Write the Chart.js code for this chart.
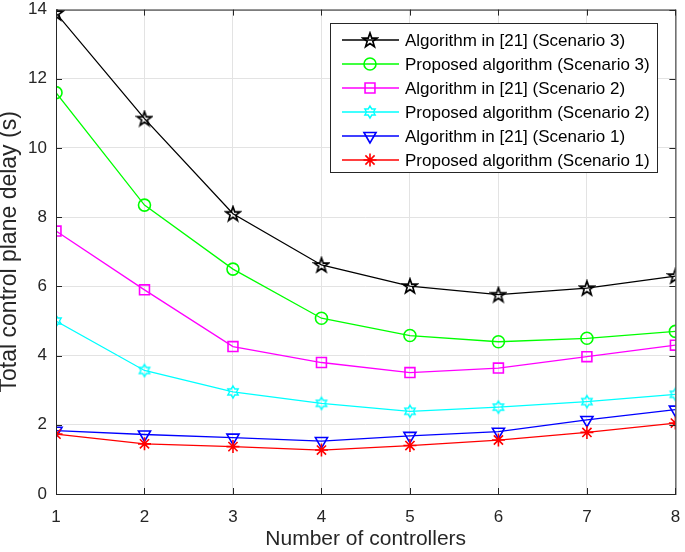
<!DOCTYPE html>
<html>
<head>
<meta charset="utf-8">
<script src="https://cdn.jsdelivr.net/npm/chart.js@4/dist/chart.umd.min.js"></script>
<style>
  html, body { margin: 0; padding: 0; background: #fff; }
  #wrap { width: 685px; height: 552px; }
</style>
</head>
<body>
<div id="wrap"><canvas id="delayChart" width="685" height="552"></canvas></div>
<script>
// Number of controllers (x axis)
const controllers = [1, 2, 3, 4, 5, 6, 7, 8];

// Total control plane delay (s)
const algo21Scenario3 = [13.9, 10.85, 8.1, 6.62, 6.01, 5.76, 5.95, 6.3];
const proposedScenario3 = [11.6, 8.35, 6.5, 5.08, 4.58, 4.4, 4.5, 4.7];
const algo21Scenario2 = [7.6, 5.9, 4.26, 3.8, 3.51, 3.64, 3.97, 4.3];
const proposedScenario2 = [5.0, 3.57, 2.95, 2.62, 2.39, 2.51, 2.67, 2.88];
const algo21Scenario1 = [1.83, 1.72, 1.63, 1.53, 1.68, 1.8, 2.14, 2.44];
const proposedScenario1 = [1.73, 1.45, 1.37, 1.27, 1.4, 1.56, 1.78, 2.05];

const seriesLabels = [
    'Algorithm in [21] (Scenario 3)',
    'Proposed algorithm (Scenario 3)',
    'Algorithm in [21] (Scenario 2)',
    'Proposed algorithm (Scenario 2)',
    'Algorithm in [21] (Scenario 1)',
    'Proposed algorithm (Scenario 1)'
];
const yTicks = [0, 2, 4, 6, 8, 10, 12, 14];

const FONT = 'Liberation Sans, Arial, Helvetica, sans-serif';
const AXIS_COLOR = '#262626';

// Marker images for MATLAB-like pentagram / hexagram
function makePentagram(color) {
    const c = document.createElement('canvas');
    c.width = 18; c.height = 18;
    const g = c.getContext('2d');
    const R = 7.5, r = 3.0, cx = 9, cy = 9.5;
    g.beginPath();
    for (let i = 0; i < 10; i++) {
        const rad = i % 2 === 0 ? R : r;
        const a = -Math.PI / 2 + i * Math.PI / 5;
        const px = cx + rad * Math.cos(a), py = cy + rad * Math.sin(a);
        if (i === 0) g.moveTo(px, py); else g.lineTo(px, py);
    }
    g.closePath();
    g.strokeStyle = color;
    g.lineWidth = 1.7;
    g.stroke();
    return c;
}

function makeHexagram(color) {
    const c = document.createElement('canvas');
    c.width = 16; c.height = 16;
    const g = c.getContext('2d');
    const R = 6, r = 3.5, cx = 8, cy = 8;
    g.beginPath();
    for (let i = 0; i < 12; i++) {
        const rad = i % 2 === 0 ? R : r;
        const a = -Math.PI / 2 + i * Math.PI / 6;
        const px = cx + rad * Math.cos(a), py = cy + rad * Math.sin(a);
        if (i === 0) g.moveTo(px, py); else g.lineTo(px, py);
    }
    g.closePath();
    g.strokeStyle = color;
    g.lineWidth = 1.4;
    g.stroke();
    return c;
}

const pentagram = makePentagram('#000000');
const hexagram = makeHexagram('#00ffff');

function toPoints(values) {
    return controllers.map((x, i) => ({ x: x, y: values[i] }));
}

function series(label, values, color, style, radius, rotation, order) {
    return {
        label: label,
        data: toPoints(values),
        borderColor: color,
        backgroundColor: 'rgba(0,0,0,0)',
        borderWidth: 1.3,
        pointStyle: style,
        pointRadius: radius,
        pointHoverRadius: radius,
        pointRotation: rotation || 0,
        pointBorderColor: color,
        pointBackgroundColor: 'rgba(0,0,0,0)',
        pointBorderWidth: 1.6,
        tension: 0,
        order: order
    };
}

const datasets = [
    series(seriesLabels[0], algo21Scenario3, '#000000', pentagram, 8, 0, 6),
    series(seriesLabels[1], proposedScenario3, '#00ff00', 'circle', 6, 0, 5),
    series(seriesLabels[2], algo21Scenario2, '#ff00ff', 'rect', 7, 0, 4),
    series(seriesLabels[3], proposedScenario2, '#00ffff', hexagram, 7, 0, 3),
    series(seriesLabels[4], algo21Scenario1, '#0000ff', 'triangle', 7, 180, 2),
    series(seriesLabels[5], proposedScenario1, '#ff0000', 'star', 6.5, 0, 1)
];

// Box around the axes, inward ticks, and the MATLAB-style legend
const matlabFrame = {
    id: 'matlabFrame',
    afterDatasetsDraw(chart) {
        const ctx = chart.ctx;
        const a = chart.chartArea;
        const xs = chart.scales.x, ys = chart.scales.y;
        ctx.save();
        ctx.strokeStyle = AXIS_COLOR;
        ctx.lineWidth = 1;
        ctx.strokeRect(a.left + 0.5, a.top + 0.5, a.right - a.left, a.bottom - a.top);
        ctx.beginPath();
        controllers.forEach(v => {
            const px = Math.round(xs.getPixelForValue(v)) + 0.5;
            ctx.moveTo(px, a.bottom); ctx.lineTo(px, a.bottom - 6);
            ctx.moveTo(px, a.top); ctx.lineTo(px, a.top + 6);
        });
        yTicks.forEach(v => {
            const py = Math.round(ys.getPixelForValue(v)) + 0.5;
            ctx.moveTo(a.left, py); ctx.lineTo(a.left + 6, py);
            ctx.moveTo(a.right, py); ctx.lineTo(a.right - 6, py);
        });
        ctx.stroke();

        // legend
        const lx = 330.5, ly = 23.5, lw = 327, lh = 149;
        ctx.fillStyle = '#ffffff';
        ctx.fillRect(lx, ly, lw, lh);
        ctx.strokeStyle = AXIS_COLOR;
        ctx.strokeRect(lx, ly, lw, lh);
        ctx.font = '17px ' + FONT;
        ctx.textBaseline = 'middle';
        chart.data.datasets.forEach((ds, i) => {
            const rowY = 40 + i * 24;
            ctx.strokeStyle = ds.borderColor;
            ctx.lineWidth = 1.3;
            ctx.beginPath();
            ctx.moveTo(342, rowY); ctx.lineTo(399, rowY);
            ctx.stroke();
            ctx.fillStyle = 'rgba(0,0,0,0)';
            ctx.lineWidth = ds.pointBorderWidth;
            Chart.helpers.drawPoint(ctx, {
                pointStyle: ds.pointStyle,
                rotation: ds.pointRotation,
                radius: ds.pointRadius,
                borderWidth: ds.pointBorderWidth
            }, 370, rowY);
            ctx.fillStyle = '#000000';
            ctx.textAlign = 'left';
            ctx.fillText(ds.label, 405, rowY + 1);
        });
        ctx.restore();
    }
};

new Chart(document.getElementById('delayChart'), {
    type: 'line',
    data: { datasets: datasets },
    options: {
        responsive: false,
        animation: false,
        events: [],
        layout: { padding: { left: 0, top: 3, right: 8, bottom: 0 } },
        plugins: {
            legend: { display: false },
            tooltip: { enabled: false }
        },
        scales: {
            x: {
                type: 'linear',
                min: 1,
                max: 8,
                afterBuildTicks: s => { s.ticks = controllers.map(v => ({ value: v })); },
                afterFit: s => { s.height = 58; s.paddingLeft = 0; s.paddingRight = 0; },
                grid: { color: '#e3e3e3', drawTicks: false, lineWidth: 1 },
                border: { display: false },
                ticks: { color: AXIS_COLOR, font: { family: FONT, size: 17 }, padding: 13, maxRotation: 0 },
                title: {
                    display: true,
                    text: 'Number of controllers',
                    color: AXIS_COLOR,
                    font: { family: FONT, size: 21 },
                    padding: { top: 0, bottom: 0 }
                }
            },
            y: {
                min: 0,
                max: 14,
                afterBuildTicks: s => { s.ticks = yTicks.map(v => ({ value: v })); },
                afterFit: s => { s.width = 56; s.paddingTop = 0; s.paddingBottom = 0; },
                grid: { color: '#e3e3e3', drawTicks: false, lineWidth: 1 },
                border: { display: false },
                ticks: { color: AXIS_COLOR, font: { family: FONT, size: 17 }, padding: 9 },
                title: {
                    display: true,
                    text: 'Total control plane delay (s)',
                    color: AXIS_COLOR,
                    font: { family: FONT, size: 23 },
                    padding: { top: -4, bottom: 0 }
                }
            }
        }
    },
    plugins: [matlabFrame]
});
</script>
</body>
</html>
